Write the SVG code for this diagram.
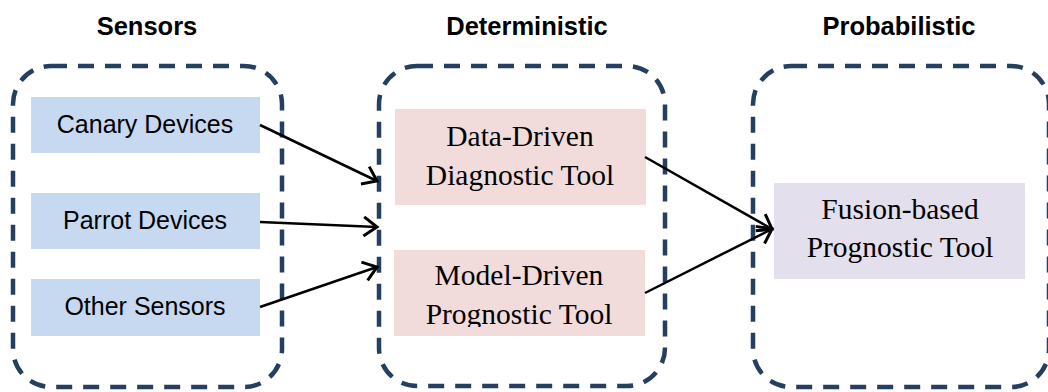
<svg xmlns="http://www.w3.org/2000/svg" width="1048" height="392" viewBox="0 0 1048 392">
<style>
.grp{fill:none;stroke:#243f60;stroke-width:4.5;stroke-dasharray:16 11}
.hdr{font-family:"Liberation Sans",Arial,sans-serif;font-weight:bold;font-size:25.5px;fill:#000;text-anchor:middle}
.sen{fill:#c6d9f0}
.det{fill:#f2dcdb}
.pro{fill:#e4dfec}
.st{font-family:"Liberation Sans",Arial,sans-serif;font-size:25px;fill:#000;text-anchor:middle}
.tt{font-family:"Liberation Serif","Times New Roman",serif;font-size:29.5px;fill:#000;text-anchor:middle}
.con{stroke:#000;stroke-width:2.5;fill:none;marker-end:url(#ah)}
</style>
<defs>
<marker id="ah" markerWidth="24" markerHeight="24" viewBox="-13 -10 15 20" refX="0" refY="0" orient="auto" markerUnits="userSpaceOnUse">
<path d="M-11,-8 L0,0 L-11,8" fill="none" stroke="#000" stroke-width="2.5"/>
</marker>
<clipPath id="clipMD"><rect x="394" y="250" width="251" height="77"/></clipPath>
</defs>
<rect width="1048" height="392" fill="#fff"/>
<g id="headers">
<text class="hdr" x="147" y="35">Sensors</text>
<text class="hdr" x="527" y="35">Deterministic</text>
<text class="hdr" x="899" y="35">Probabilistic</text>
</g>
<g id="group-sensors"><rect class="grp" x="13" y="66" width="269" height="321" rx="38"/></g>
<g id="group-deterministic"><rect class="grp" x="379" y="66" width="286" height="320" rx="38"/></g>
<g id="group-probabilistic"><rect class="grp" x="753" y="66" width="296" height="321" rx="38"/></g>
<g id="canary"><rect class="sen" x="31" y="97" width="229" height="56"/><text class="st" x="145" y="133">Canary Devices</text></g>
<g id="parrot"><rect class="sen" x="31" y="193" width="229" height="56"/><text class="st" x="145" y="229">Parrot Devices</text></g>
<g id="other"><rect class="sen" x="31" y="279" width="229" height="57"/><text class="st" x="145" y="315">Other Sensors</text></g>
<g id="data-driven"><rect class="det" x="395" y="109" width="251" height="96"/><text class="tt" x="520" y="146">Data-Driven</text><text class="tt" x="520" y="185">Diagnostic Tool</text></g>
<g id="model-driven"><rect class="det" x="394" y="250" width="251" height="86"/><g clip-path="url(#clipMD)"><text class="tt" x="519" y="285">Model-Driven</text><text class="tt" x="519" y="324">Prognostic Tool</text></g></g>
<g id="fusion"><rect class="pro" x="774" y="183" width="251" height="96"/><text class="tt" x="900" y="219">Fusion-based</text><text class="tt" x="900" y="257">Prognostic Tool</text></g>
<g id="connectors">
<line class="con" x1="260" y1="125" x2="377" y2="181"/>
<line class="con" x1="260" y1="222" x2="377" y2="227"/>
<line class="con" x1="260" y1="307" x2="377" y2="267"/>
<line class="con" x1="645" y1="157" x2="772" y2="229"/>
<line class="con" x1="645" y1="293" x2="772" y2="229"/>
</g>
</svg>
